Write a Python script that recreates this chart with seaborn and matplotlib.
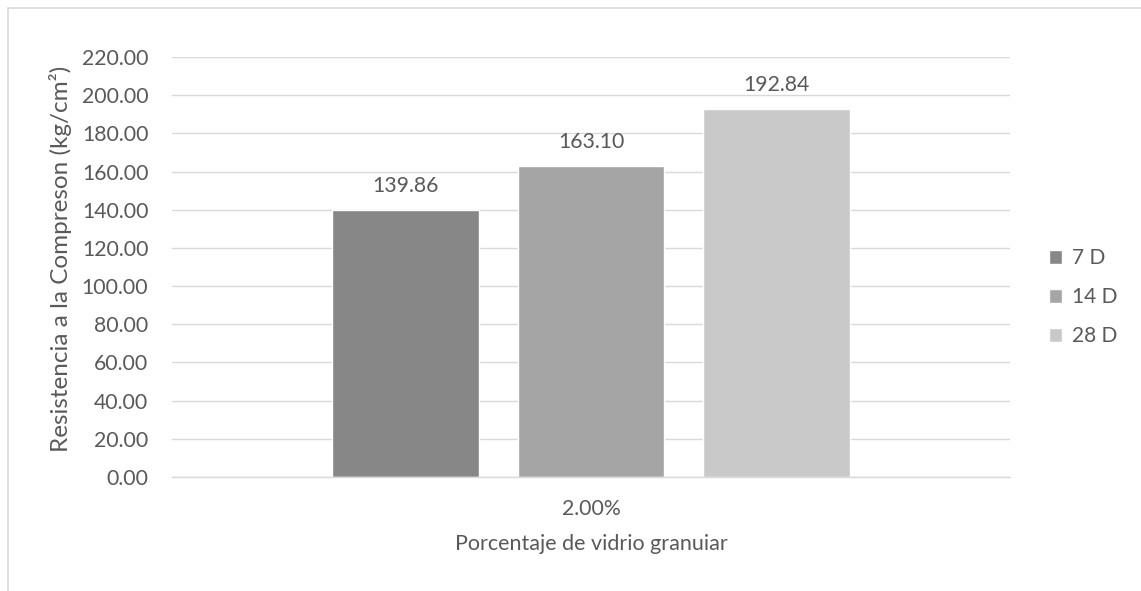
import matplotlib
matplotlib.use("Agg")
import matplotlib.pyplot as plt
from matplotlib.patches import Rectangle
import seaborn as sns
import pandas as pd

categories = ["2.00%"]
series = ["7 D", "14 D", "28 D"]
values = [139.86, 163.10, 192.84]
colors = ["#878787", "#a5a5a5", "#c9c9c9"]
yticks = [0, 20, 40, 60, 80, 100, 120, 140, 160, 180, 200, 220]

sns.set_theme(style="white")
plt.rcParams["font.family"] = ["Lato", "DejaVu Sans"]
text_color = "#595959"
grid_color = "#d9d9d9"

df = pd.DataFrame({
    "cat": categories * len(series),
    "serie": series,
    "valor": values,
})

W, H = 1141, 591
fig = plt.figure(figsize=(W / 100, H / 100), dpi=100)
ax = fig.add_axes([172 / W, 1 - 477 / H, (1010 - 172) / W, (477 - 57) / H])

sns.barplot(data=df, x="cat", y="valor", hue="serie", palette=colors,
            width=0.664, gap=0.2075, ax=ax, errorbar=None, saturation=1,
            legend=True)

ax.set_xlim(-0.5, 0.5)
ax.set_ylim(0, 220)
ax.set_yticks(yticks)
ax.set_yticklabels([f"{v:.2f}" for v in yticks])
ax.yaxis.grid(True, color=grid_color, linewidth=1)
ax.set_axisbelow(True)
for s in ["top", "right", "left"]:
    ax.spines[s].set_visible(False)
ax.spines["bottom"].set_color(grid_color)
ax.spines["bottom"].set_linewidth(1)
ax.tick_params(axis="both", length=0, labelsize=15.3, colors=text_color)
ax.tick_params(axis="y", pad=17)
ax.tick_params(axis="x", pad=16)

for container in ax.containers:
    ax.bar_label(container, labels=[f"{v:.2f}" for v in container.datavalues],
                 padding=10, fontsize=15.3, color=text_color)

ax.set_xlabel("Porcentaje de vidrio granuiar", fontsize=15.5, color=text_color,
              labelpad=11)
ax.set_ylabel("Resistencia a la Compreson (kg/cm²)", fontsize=17.5,
              color=text_color, va="center")
ax.yaxis.set_label_coords(-0.1325, 0.519)

handles, labels = ax.get_legend_handles_labels()
ax.legend(handles, labels, loc="center left", bbox_to_anchor=(1.024, 0.428),
          frameon=False, fontsize=15, labelcolor=text_color,
          handlelength=0.65, handleheight=0.65, handletextpad=0.45,
          labelspacing=0.9)

# outer chart frame
fig.patches.append(Rectangle((8 / W, -0.1), 1.2, 1 - 8 / H + 0.1,
                             transform=fig.transFigure, fill=False,
                             edgecolor=grid_color, linewidth=1.2))

fig.savefig("out.png", dpi=100)
